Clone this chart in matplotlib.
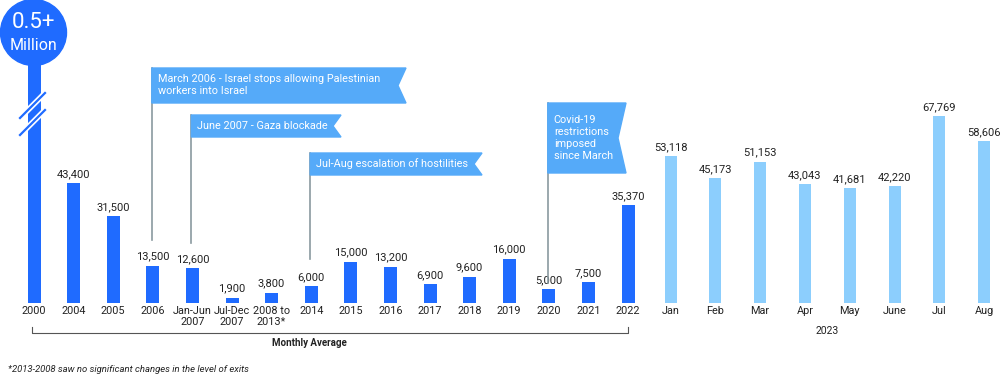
import numpy as np
import matplotlib
matplotlib.use('Agg')
import matplotlib.pyplot as plt
from matplotlib.patches import Circle, Polygon
import matplotlib.patheffects as pe

plt.rcParams['font.family'] = ['Roboto', 'DejaVu Sans']

# data
year_labels = ['2000', '2004', '2005', '2006', 'Jan-Jun\n2007', 'Jul-Dec\n2007',
               '2008 to\n2013*', '2014', '2015', '2016', '2017', '2018', '2019',
               '2020', '2021', '2022']
year_values = [500000, 43400, 31500, 13500, 12600, 1900, 3800, 6000, 15000,
               13200, 6900, 9600, 16000, 5000, 7500, 35370]
month_labels = ['Jan', 'Feb', 'Mar', 'Apr', 'May', 'June', 'Jul', 'Aug']
month_values = [53118, 45173, 51153, 43043, 41681, 42220, 67769, 58606]

events = [
    ('March 2006 - Israel stops allowing Palestinian\nworkers into Israel', 3),
    ('June 2007 - Gaza blockade', 4),
    ('Jul-Aug escalation of hostilities', 7),
    ('Covid-19\nrestrictions\nimposed\nsince March', 13),
]

dark = '#1f6bff'
light = '#8ccefd'
flag_c = '#55aaf9'
txt = '#222222'

W, H = 1000, 379
base_px = 303
scale = 0.00276  # px per unit

fig = plt.figure(figsize=(10, 3.79), dpi=100)
ax = fig.add_axes([0, (H - base_px) / H, 1, base_px / H])
ax.set_xlim(0, W)
ax.set_ylim(0, base_px / scale)
ax.axis('off')

year_x = 34 + np.arange(len(year_values)) * 39.6
month_x = 670.5 + np.arange(len(month_values)) * 44.8

ax.bar(year_x, year_values, width=13, color=dark)
ax.bar(month_x, month_values, width=12, color=light)

for x, v in zip(list(year_x[1:]) + list(month_x), year_values[1:] + month_values):
    ax.annotate(f'{v:,}', (x, v), xytext=(0, 3), textcoords='offset points',
                ha='center', va='bottom', fontsize=8, color=txt)

# overlay in pixel coordinates
ov = fig.add_axes([0, 0, 1, 1])
ov.set_xlim(0, W)
ov.set_ylim(H, 0)
ov.axis('off')

for x, lab in zip(list(year_x) + list(month_x), year_labels + month_labels):
    ov.text(x, 306, lab, ha='center', va='top', fontsize=7.8, color=txt,
            linespacing=1.15)

# big bar top: circle + break
ov.add_patch(Circle((33.5, 32.5), 33, color=dark, zorder=3))
ov.text(33.5, 23, '0.5+', ha='center', va='center', color='white', fontsize=16, zorder=4)
ov.text(33.5, 45, 'Million', ha='center', va='center', color='white', fontsize=11.5, zorder=4)
for dy in (0, 17):
    ov.plot([20, 45], [118 + dy, 93 + dy], color=dark, lw=1.6, zorder=5,
            path_effects=[pe.Stroke(linewidth=4, foreground='white'), pe.Normal()])

# event flags
flag_boxes = [(68, 103, 406), (115, 137, 341), (153, 175, 482), (103, 173, 626)]
line_ends = [240, 243, 259, 283]
for (label, idx), (y0, y1, x1), yl in zip(events, flag_boxes, line_ends):
    x0 = year_x[idx] - 1
    ov.plot([x0, x0], [y0, yl], color='#8a9aa0', lw=1.2, zorder=2)
    notch = 8
    ov.add_patch(Polygon([(x0, y0), (x1, y0), (x1 - notch, (y0 + y1) / 2), (x1, y1), (x0, y1)],
                         closed=True, color=flag_c, zorder=3))
    ov.text(x0 + 6, (y0 + y1) / 2, label, ha='left', va='center', color='white',
            fontsize=7.8, linespacing=1.25, zorder=4)

# bracket
ov.plot([year_x[0] - 2, year_x[0] - 2, year_x[-1], year_x[-1]], [327, 333, 333, 327],
        color='#555555', lw=0.8)
ov.text(309, 343, 'Monthly Average', ha='center', va='center', fontsize=7,
        fontweight='bold', color=txt)
ov.text(month_x.mean(), 331, '2023', ha='center', va='center', fontsize=7.5, color=txt)
ov.text(8, 369, '*2013-2008 saw no significant changes in the level of exits', ha='left',
        va='center', fontsize=6.8, style='italic', color=txt)

fig.savefig('out.png', dpi=100)
